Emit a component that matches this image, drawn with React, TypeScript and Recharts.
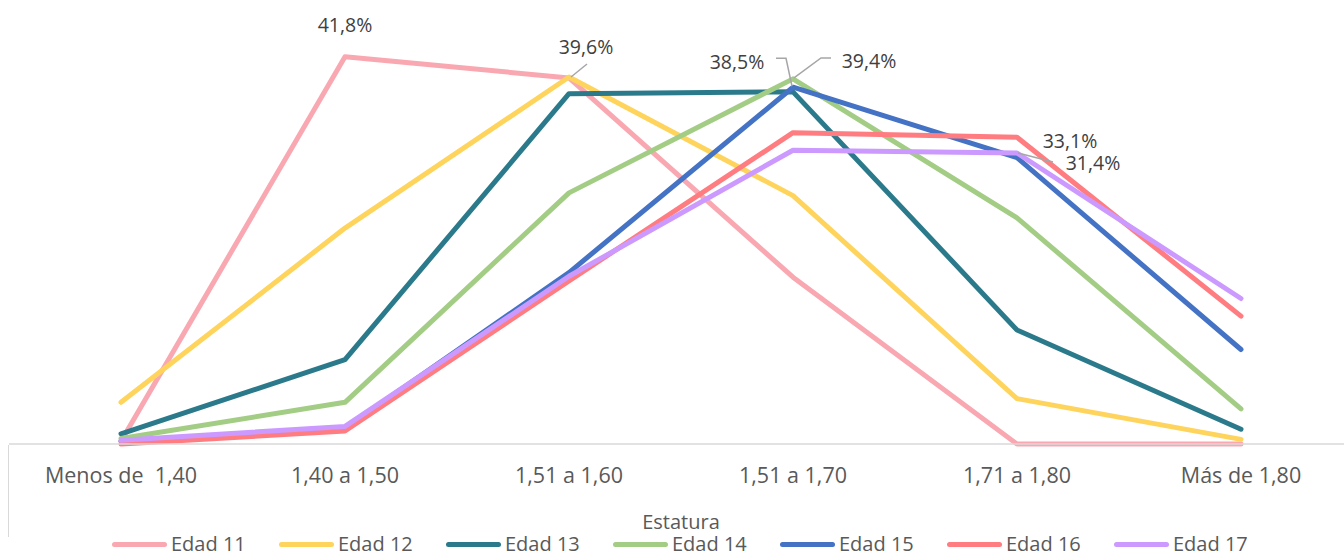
import { LineChart, Line, XAxis, YAxis, Legend, LabelList } from 'recharts';

const categories = ['Menos de\u00A0 1,40', '1,40 a 1,50', '1,51 a 1,60', '1,51 a 1,70', '1,71 a 1,80', 'Más de 1,80'];

const edad11 = [0.3, 41.8, 39.5, 18.0, 0.0, 0.0];
const edad12 = [4.5, 23.3, 39.6, 26.8, 4.9, 0.5];
const edad13 = [1.1, 9.1, 37.8, 38.0, 12.3, 1.6];
const edad14 = [0.6, 4.5, 27.1, 39.4, 24.4, 3.8];
const edad15 = [0.3, 1.7, 18.5, 38.5, 30.9, 10.2];
const edad16 = [0.0, 1.4, 17.6, 33.6, 33.1, 13.8];
const edad17 = [0.4, 1.9, 18.1, 31.7, 31.4, 15.7];

const series = [
  { key: 'Edad 11', values: edad11, color: '#F9A8B1' },
  { key: 'Edad 12', values: edad12, color: '#FFD45C' },
  { key: 'Edad 13', values: edad13, color: '#2B7A8B' },
  { key: 'Edad 14', values: edad14, color: '#A3CD85' },
  { key: 'Edad 15', values: edad15, color: '#4472C4' },
  { key: 'Edad 16', values: edad16, color: '#FF7C80' },
  { key: 'Edad 17', values: edad17, color: '#CC9AFF' },
];

// which point of which series carries a label, and where the text sits
const labelSpecs: Record<string, { index: number; dx: number; dy: number; leader?: number[][] }> = {
  'Edad 11': { index: 1, dx: 0, dy: -32 },
  'Edad 12': { index: 2, dx: 17, dy: -31, leader: [[2, 0], [18, -13]] },
  'Edad 14': { index: 3, dx: 76, dy: -18, leader: [[1, -1], [28, -21], [38, -21]] },
  'Edad 15': { index: 3, dx: -56, dy: -26, leader: [[-1, -1], [-7, -29], [-17, -29]] },
  'Edad 16': { index: 4, dx: 53, dy: 3 },
  'Edad 17': { index: 4, dx: 76, dy: 9, leader: [[1, 0], [36, 9]] },
};

const data = categories.map((c, i) => {
  const row: Record<string, string | number> = { cat: c };
  series.forEach((s) => {
    row[s.key] = s.values[i];
  });
  return row;
});

const FONT = '"Open Sans", sans-serif';

function makeLabel(name: string) {
  const spec = labelSpecs[name];
  return (props: any) => {
    const { x, y, value, index } = props;
    if (!spec || index !== spec.index) return null;
    const pts = spec.leader ? spec.leader.map(([a, b]) => `${x + a},${y + b}`).join(' ') : null;
    return (
      <g>
        {pts && <polyline points={pts} fill="none" stroke="#A6A6A6" strokeWidth={1.5} />}
        <text
          x={x + spec.dx}
          y={y + spec.dy}
          textAnchor="middle"
          dominantBaseline="central"
          fontFamily={FONT}
          fontSize={19.5}
          fill="#404040"
        >
          {value.toFixed(1).replace('.', ',')}%
        </text>
      </g>
    );
  };
}

function LegendBox() {
  return (
    <div style={{ position: 'relative', width: 1344, height: 60, fontFamily: FONT, color: '#595959' }}>
      <div style={{ position: 'absolute', top: 19, left: 0, width: 1362, textAlign: 'center', fontSize: 20, lineHeight: '18px' }}>
        Estatura
      </div>
      <div style={{ position: 'absolute', top: 41, left: 112, display: 'flex' }}>
        {series.map((s) => (
          <div key={s.key} style={{ width: 167, display: 'flex', alignItems: 'center', fontSize: 20, lineHeight: '18px' }}>
            <div style={{ width: 55, height: 5, borderRadius: 3, background: s.color, marginRight: 4 }} />
            <span>{s.key}</span>
          </div>
        ))}
      </div>
    </div>
  );
}

export default function App() {
  return (
    <div style={{ position: 'absolute', left: 0, top: 0, width: 1344, height: 554, background: '#fff', overflow: 'hidden' }}>
      <div style={{ position: 'absolute', left: 8, top: 445, width: 1, height: 92, background: '#D9D9D9' }} />
      <LineChart width={1344} height={554} data={data} margin={{ top: 27, right: -9, bottom: 0, left: 9 }}>
        <XAxis
          dataKey="cat"
          height={50}
          padding={{ left: 112, right: 112 }}
          axisLine={{ stroke: '#D9D9D9', strokeWidth: 1.5 }}
          tickLine={false}
          tickMargin={18}
          interval={0}
          tick={{ fill: '#595959', fontSize: 21.5, fontFamily: FONT }}
        />
        <YAxis hide domain={[0, 45]} />
        <Legend
          verticalAlign="bottom"
          content={() => <LegendBox />}
          wrapperStyle={{ left: 0, width: 1344, height: 60 }}
        />
        {series.map((s) => (
          <Line
            key={s.key}
            type="linear"
            dataKey={s.key}
            stroke={s.color}
            strokeWidth={5}
            strokeLinecap="round"
            strokeLinejoin="round"
            dot={false}
            isAnimationActive={false}
          >
            {labelSpecs[s.key] && <LabelList dataKey={s.key} content={makeLabel(s.key)} />}
          </Line>
        ))}
      </LineChart>
    </div>
  );
}
